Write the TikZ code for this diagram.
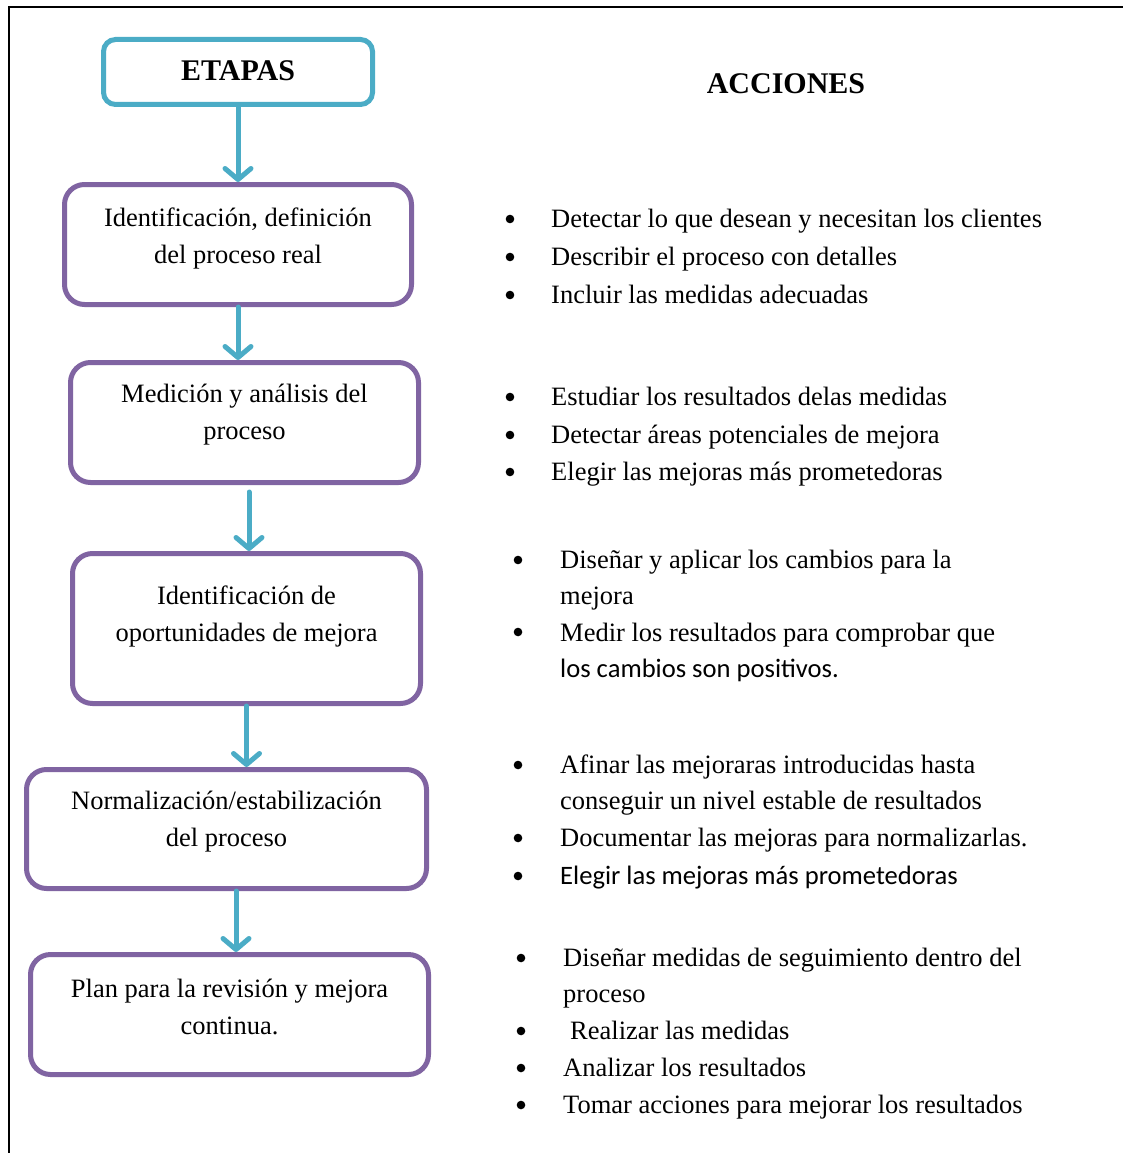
\documentclass[tikz,border=0pt]{standalone}
\usepackage{fontspec}
\setmainfont{Liberation Serif}
\newfontfamily\calibri{Carlito}
\usetikzlibrary{arrows.meta,calc}
\definecolor{cyanline}{HTML}{4BACC6}
\definecolor{purpleline}{HTML}{8064A2}
\begin{document}
\begin{tikzpicture}[x=1pt,y=-1pt,
  stagebox/.style={draw=purpleline,line width=5pt,rounded corners=20pt,fill=white},
  headbox/.style={draw=cyanline,line width=5pt,rounded corners=12pt,fill=white},
  stagetext/.style={align=center,inner sep=0pt,font=\fontsize{26.5}{37}\selectfont},
  flow/.style={draw=cyanline,line width=5pt,line cap=round,
    -{Straight Barb[length=11pt,width=26pt,line width=5pt,round]}},
  item/.style={anchor=base west,inner sep=0pt,font=\fontsize{26.5}{30}\selectfont},
  sansitem/.style={item,font=\fontsize{26.6}{30}\calibri},
  title/.style={font=\fontsize{30}{34}\selectfont\bfseries,inner sep=0pt},
  dot/.style={fill=black}]
\useasboundingbox (0,0) rectangle (1123,1153);
% frame lines
\draw[line width=2.5pt] (9,1153) -- (9,7) -- (1123,7);

% stage column
\node[headbox,minimum width=269pt,minimum height=65pt] (top) at (238,72) {};
\node[title,anchor=base] (toptext) at (238,81) {ETAPAS};

\node[stagebox,minimum width=347pt,minimum height=120pt] (b1) at (238,244.5) {};
\node[stagetext] (t1) at (238,238.5) {Identificación, definición\\del proceso real};

\node[stagebox,minimum width=348pt,minimum height=120pt] (b2) at (244.5,422.5) {};
\node[stagetext] (t2) at (244.5,415) {Medición y análisis del\\proceso};

\node[stagebox,minimum width=348pt,minimum height=150pt] (b3) at (246.5,628.5) {};
\node[stagetext] (t3) at (246.5,616.5) {Identificación de\\oportunidades de mejora};

\node[stagebox,minimum width=400pt,minimum height=119pt] (b4) at (226.5,829) {};
\node[stagetext] (t4) at (226.5,822) {Normalización/estabilización\\del proceso};

\node[stagebox,minimum width=398pt,minimum height=120pt] (b5) at (229.5,1014.5) {};
\node[stagetext] (t5) at (229.5,1007) {Plan para la revisión y mejora\\continua.};

% connectors
\draw[flow] (top.south) -- (top.south |- b1.north);
\draw[flow] (b1.south) -- (b1.south |- b2.north);
\coordinate (s3) at ($(b2.south)+(4.5,7)$);
\draw[flow] (s3) -- (s3 |- b3.north);
\draw[flow] (b3.south) -- (b3.south |- b4.north);
\coordinate (s5) at ($(b4.south)+(9.5,0)$);
\draw[flow] (s5) -- (s5 |- b5.north);

% actions column
\node[title,anchor=base] (acc) at (786,94) {ACCIONES};

% group 1
\fill[dot] (510,219) circle (4.3);
\node[item] (g1a) at (551,227) {Detectar lo que desean y necesitan los clientes};
\fill[dot] (510,257) circle (4.3);
\node[item] (g1b) at (551,265) {Describir el proceso con detalles};
\fill[dot] (510,295) circle (4.3);
\node[item] (g1c) at (551,303) {Incluir las medidas adecuadas};

% group 2
\fill[dot] (510,397) circle (4.3);
\node[item] (g2a) at (551,405) {Estudiar los resultados delas medidas};
\fill[dot] (510,435) circle (4.3);
\node[item] (g2b) at (551,443) {Detectar áreas potenciales de mejora};
\fill[dot] (510,472) circle (4.3);
\node[item] (g2c) at (551,480) {Elegir las mejoras más prometedoras};

% group 3
\fill[dot] (518,560) circle (4.3);
\node[item] (g3a) at (560,568) {Diseñar y aplicar los cambios para la};
\node[item] (g3b) at (560,604) {mejora};
\fill[dot] (518,632) circle (4.3);
\node[item] (g3c) at (560,641) {Medir los resultados para comprobar que};
\node[sansitem] (g3d) at (560,677) {los cambios son positivos.};

% group 4
\fill[dot] (518,765) circle (4.3);
\node[item] (g4a) at (560,773) {Afinar las mejoraras introducidas hasta};
\node[item] (g4b) at (560,809) {conseguir un nivel estable de resultados};
\fill[dot] (518,838) circle (4.3);
\node[item] (g4c) at (560,846) {Documentar las mejoras para normalizarlas.};
\fill[dot] (518,876) circle (4.3);
\node[sansitem] (g4d) at (560,884) {Elegir las mejoras más prometedoras};

% group 5
\fill[dot] (521,958) circle (4.3);
\node[item] (g5a) at (563,966) {Diseñar medidas de seguimiento dentro del};
\node[item] (g5b) at (563,1002) {proceso};
\fill[dot] (521,1031) circle (4.3);
\node[item] (g5c) at (570,1039) {Realizar las medidas};
\fill[dot] (521,1068) circle (4.3);
\node[item] (g5d) at (563,1076) {Analizar los resultados};
\fill[dot] (521,1105) circle (4.3);
\node[item] (g5e) at (563,1113) {Tomar acciones para mejorar los resultados};
\end{tikzpicture}
\end{document}
